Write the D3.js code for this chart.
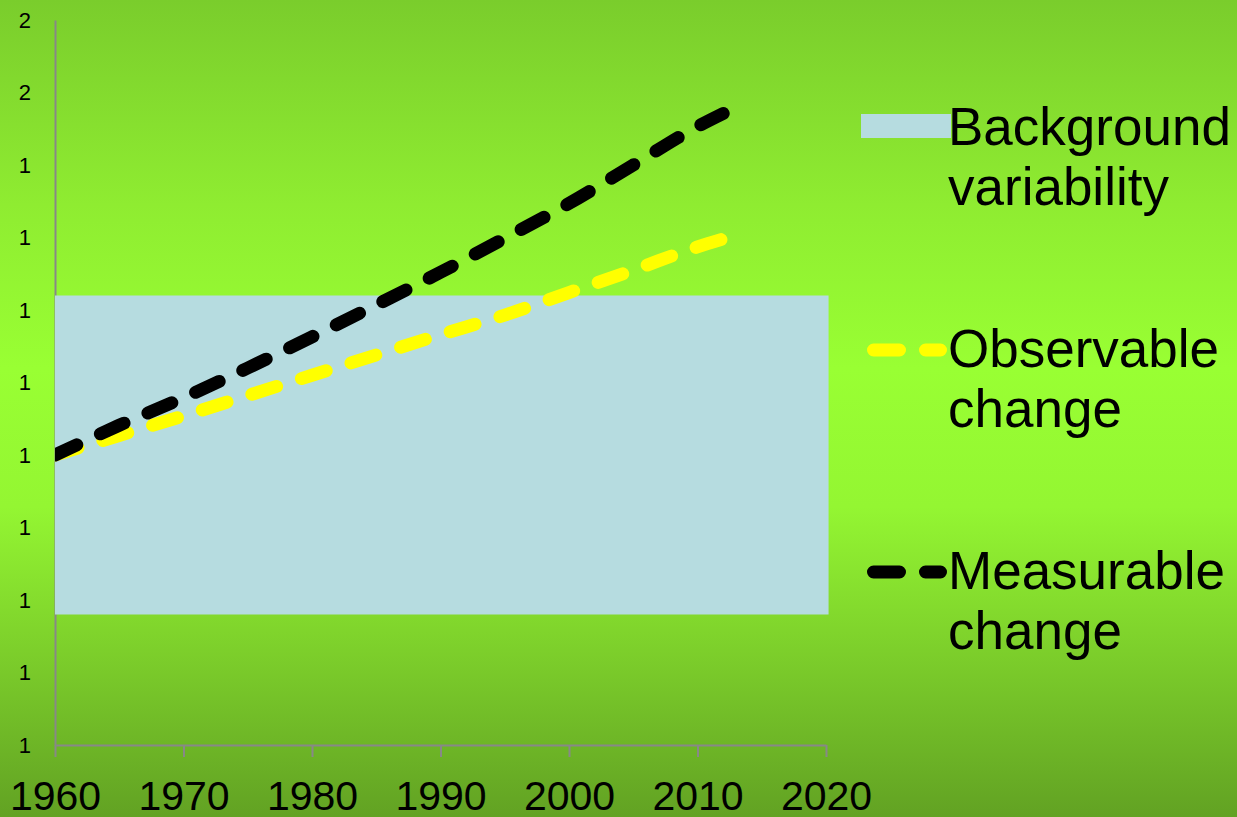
<!DOCTYPE html>
<html>
<head>
<meta charset="utf-8">
<script src="https://cdn.jsdelivr.net/npm/d3@7"></script>
<style>
  html, body { margin: 0; padding: 0; overflow: hidden; }
  svg { display: block; font-family: "Liberation Sans", Arial, sans-serif; }
</style>
</head>
<body>
<svg id="chart" width="1237" height="817"></svg>
<script>
// Years sampled along the two trend lines
const years = [1960, 1965, 1970, 1975, 1980, 1985, 1990, 1995, 2000, 2005, 2010, 2012];
// Observable change (yellow dashed line)
const observable = [1.000, 1.027, 1.054, 1.082, 1.110, 1.138, 1.166, 1.193, 1.224, 1.255, 1.287, 1.298];
// Measurable change (black dashed line)
const measurable = [1.000, 1.041, 1.079, 1.120, 1.163, 1.207, 1.252, 1.299, 1.347, 1.400, 1.453, 1.471];
// Background variability band: year span and value span
const bandYears = [1960, 2020.2];
const bandValues = [0.78, 1.22];
// Axis ticks
const xTicks = [1960, 1970, 1980, 1990, 2000, 2010, 2020];
const yTicks = [0.6, 0.7, 0.8, 0.9, 1.0, 1.1, 1.2, 1.3, 1.4, 1.5, 1.6];
const yTickLabels = ["1", "1", "1", "1", "1", "1", "1", "1", "1", "2", "2"];
// Legend entries
const legendItems = [
  { key: "band", lines: ["Background", "variability"] },
  { key: "observable", lines: ["Observable", "change"] },
  { key: "measurable", lines: ["Measurable", "change"] }
];

const svg = d3.select("#chart");
const W = 1237, H = 817;

// Slide-style vertical green gradient
const defs = svg.append("defs");
const grad = defs.append("linearGradient").attr("id", "bg")
  .attr("x1", 0).attr("y1", 0).attr("x2", 0).attr("y2", 1);
[["0%", "#7acd2c"], ["25%", "#8fec31"], ["45%", "#99ff33"], ["62%", "#94f632"], ["100%", "#62a223"]]
  .forEach(([o, c]) => grad.append("stop").attr("offset", o).attr("stop-color", c));
svg.append("rect").attr("width", W).attr("height", H).attr("fill", "url(#bg)");

const x = d3.scaleLinear().domain([1960, 2020]).range([55, 826]);
const y = d3.scaleLinear().domain([0.6, 1.6]).range([745, 20]);

defs.append("clipPath").attr("id", "plot")
  .append("rect").attr("x", x(1960)).attr("y", 0)
  .attr("width", x(2020) - x(1960) + 10).attr("height", y(0.6));

// Axes
const axisColor = "#888888";
const yAxis = svg.append("g").attr("transform", `translate(${x(1960)},0)`)
  .call(d3.axisLeft(y).tickValues(yTicks).tickSize(0).tickPadding(24)
    .tickFormat((d, i) => yTickLabels[i]));
yAxis.attr("font-size", 22);
yAxis.select(".domain").attr("stroke", axisColor).attr("stroke-width", 2);
yAxis.selectAll("text").attr("font-size", 22).attr("fill", "#000")
  .attr("font-family", "Liberation Sans, Arial, sans-serif");

const xAxis = svg.append("g").attr("transform", `translate(0,${y(0.6)})`)
  .call(d3.axisBottom(x).tickValues(xTicks).tickSize(12).tickSizeOuter(0)
    .tickFormat(d3.format("d")));
xAxis.attr("font-size", 41);
xAxis.select(".domain").attr("stroke", axisColor).attr("stroke-width", 2);
xAxis.selectAll(".tick line").attr("stroke", axisColor).attr("stroke-width", 2);
xAxis.selectAll("text").attr("font-size", 41).attr("fill", "#000")
  .attr("y", 65).attr("dy", 0)
  .attr("font-family", "Liberation Sans, Arial, sans-serif");

// Background variability band
const bandColor = "#b6dce0";
svg.append("rect")
  .attr("x", x(bandYears[0])).attr("y", y(bandValues[1]))
  .attr("width", x(bandYears[1]) - x(bandYears[0]))
  .attr("height", y(bandValues[0]) - y(bandValues[1]))
  .attr("fill", bandColor);

// Dashed trend lines
const dash = "26 26";
const line = d3.line().x(d => x(d[0])).y(d => y(d[1])).curve(d3.curveMonotoneX);
const series = [
  { key: "observable", values: observable, color: "#ffff00" },
  { key: "measurable", values: measurable, color: "#000000" }
];
const lines = svg.append("g").attr("clip-path", "url(#plot)");
series.forEach(s => {
  lines.append("path")
    .datum(years.map((yr, i) => [yr, s.values[i]]))
    .attr("d", line)
    .attr("fill", "none")
    .attr("stroke", s.color)
    .attr("stroke-width", 13)
    .attr("stroke-linecap", "round")
    .attr("stroke-dasharray", dash)
    .attr("stroke-dashoffset", 2);
});

// Legend
const legend = svg.append("g");
const legendRows = [128, 350, 572];
const lineHeight = 60;
legendItems.forEach((item, i) => {
  const cy = legendRows[i];
  if (item.key === "band") {
    legend.append("rect").attr("x", 861).attr("y", cy - 14)
      .attr("width", 90).attr("height", 24).attr("fill", bandColor);
  } else {
    const s = series.find(d => d.key === item.key);
    legend.append("line")
      .attr("x1", 873.5).attr("x2", 940.5).attr("y1", cy).attr("y2", cy)
      .attr("stroke", s.color).attr("stroke-width", 13)
      .attr("stroke-linecap", "round").attr("stroke-dasharray", dash);
  }
  const t = legend.append("text").attr("x", 948).attr("y", cy + 17)
    .attr("font-size", 53).attr("fill", "#000");
  item.lines.forEach((ln, j) => {
    t.append("tspan").attr("x", 948).attr("dy", j === 0 ? 0 : lineHeight).text(ln);
  });
});
</script>
</body>
</html>
